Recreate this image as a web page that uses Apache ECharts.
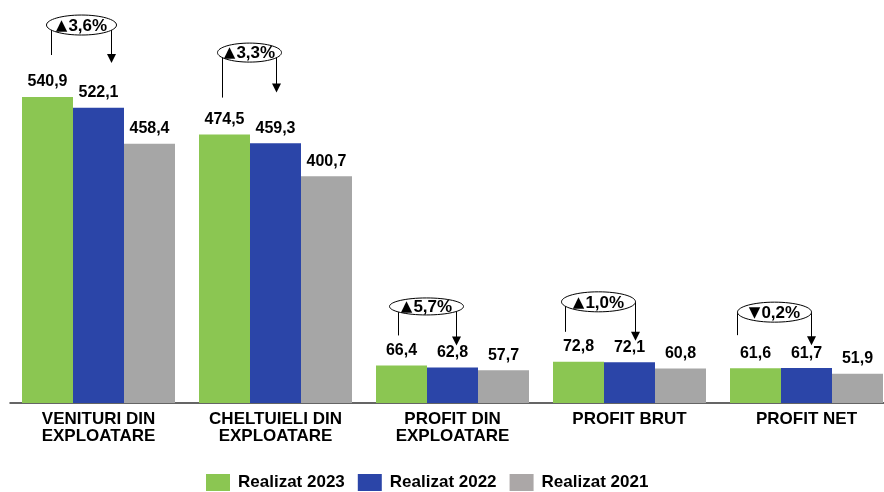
<!DOCTYPE html>
<html>
<head>
<meta charset="utf-8">
<script src="https://cdn.jsdelivr.net/npm/echarts@6/dist/echarts.min.js"></script>
<style>
html,body{margin:0;padding:0;background:#fff;overflow:hidden;}
#c{width:900px;height:492px;}
</style>
</head>
<body>
<div id="c"></div>
<script>
const categories = ['VENITURI DIN\nEXPLOATARE', 'CHELTUIELI DIN\nEXPLOATARE', 'PROFIT DIN\nEXPLOATARE', 'PROFIT BRUT', 'PROFIT NET'];
const seriesNames = ['Realizat 2023', 'Realizat 2022', 'Realizat 2021'];
const v2023 = [540.9, 474.5, 66.4, 72.8, 61.6];
const v2022 = [522.1, 459.3, 62.8, 72.1, 61.7];
const v2021 = [458.4, 400.7, 57.7, 60.8, 51.9];
const changeArrows = ['▲', '▲', '▲', '▲', '▼'];
const changeValues = ['3,6%', '3,3%', '5,7%', '1,0%', '0,2%'];

// annotation layout (pixel offsets relative to category centre / green bar top)
const annLayout = [
  {ex: -17, ey: -72, rx: 35, ry: 10, lx: -47, ly: -42, ax: 13, ay: -34},
  {ex: -26, ey: -82, rx: 32, ry: 9.5, lx: -53, ly: -37, ax: 1, ay: -42},
  {ex: -26, ey: -59, rx: 37, ry: 8.5, lx: -54, ly: -30, ax: 4, ay: -20},
  {ex: -31, ey: -60, rx: 37, ry: 10, lx: -64, ly: -30, ax: 6, ay: -21},
  {ex: -32, ey: -56, rx: 37, ry: 10, lx: -69, ly: -33, ax: 5, ay: -23}
];

const FONT = '"Liberation Sans", Arial, sans-serif';
const colors = ['#8BC652', '#2B45A8', '#A6A6A6'];

const chart = echarts.init(document.getElementById('c'), null, {renderer: 'canvas'});

function barSeries(name, data, color) {
  return {
    name: name,
    type: 'bar',
    data: data,
    barWidth: 51,
    barGap: '0%',
    itemStyle: {color: color},
    label: {
      show: true,
      position: 'top',
      distance: 7,
      color: '#000',
      fontFamily: FONT,
      fontWeight: 'bold',
      fontSize: 16,
      formatter: p => p.value.toFixed(1).replace('.', ',')
    }
  };
}

chart.setOption({
  animation: false,
  backgroundColor: '#fff',
  grid: {left: 10, width: 885, top: 63.6, height: 339.4, containLabel: false},
  legend: {
    data: seriesNames.map((n, i) => ({name: n, itemStyle: {color: i === 2 ? '#ABA7A7' : colors[i]}})),
    left: 206,
    top: 474,
    padding: 0,
    itemWidth: 24,
    itemHeight: 17,
    itemGap: 13,
    icon: 'rect',
    textStyle: {fontFamily: FONT, fontWeight: 'bold', fontSize: 17, color: '#000', padding: [0, 0, 0, 3]}
  },
  xAxis: {
    type: 'category',
    data: categories,
    axisLine: {lineStyle: {color: '#333', width: 1.5}},
    axisTick: {show: false},
    axisLabel: {
      interval: 0,
      margin: 8,
      color: '#000',
      fontFamily: FONT,
      fontWeight: 'bold',
      fontSize: 17,
      lineHeight: 17
    }
  },
  yAxis: {
    type: 'value',
    min: 0,
    max: 600,
    show: false,
    splitLine: {show: false}
  },
  series: [
    barSeries(seriesNames[0], v2023, colors[0]),
    barSeries(seriesNames[1], v2022, colors[1]),
    barSeries(seriesNames[2], v2021, colors[2])
  ]
});

const graphics = [];
categories.forEach((c, i) => {
  const p = chart.convertToPixel({gridIndex: 0}, [i, v2023[i]]);
  const L = annLayout[i];
  const cx = p[0], gy = p[1];
  const ecx = cx + L.ex, ecy = gy + L.ey;
  graphics.push({type: 'line', shape: {x1: cx + L.lx, y1: ecy, x2: cx + L.lx, y2: gy + L.ly}, style: {stroke: '#000', lineWidth: 1}, z: 10});
  graphics.push({type: 'line', shape: {x1: cx + L.ax, y1: ecy, x2: cx + L.ax, y2: gy + L.ay - 7}, style: {stroke: '#000', lineWidth: 1}, z: 10});
  graphics.push({type: 'polygon', shape: {points: [[cx + L.ax - 4.5, gy + L.ay - 9], [cx + L.ax + 4.5, gy + L.ay - 9], [cx + L.ax, gy + L.ay]]}, style: {fill: '#000'}, z: 10});
  graphics.push({type: 'ellipse', shape: {cx: ecx, cy: ecy, rx: L.rx, ry: L.ry}, style: {fill: '#fff', stroke: '#000', lineWidth: 1}, z: 11});
  graphics.push({
    type: 'text', x: ecx, y: ecy + 1, z: 12,
    style: {
      text: '{a|' + changeArrows[i] + '}{v|' + changeValues[i] + '}',
      align: 'center', verticalAlign: 'middle',
      rich: {
        a: {fontFamily: '"DejaVu Sans", sans-serif', fontSize: 15, fontWeight: 'bold', fill: '#000', padding: [0, 1, 0, 0]},
        v: {fontFamily: FONT, fontSize: 17, fontWeight: 'bold', fill: '#000'}
      }
    }
  });
});
chart.setOption({graphic: graphics});
</script>
</body>
</html>
